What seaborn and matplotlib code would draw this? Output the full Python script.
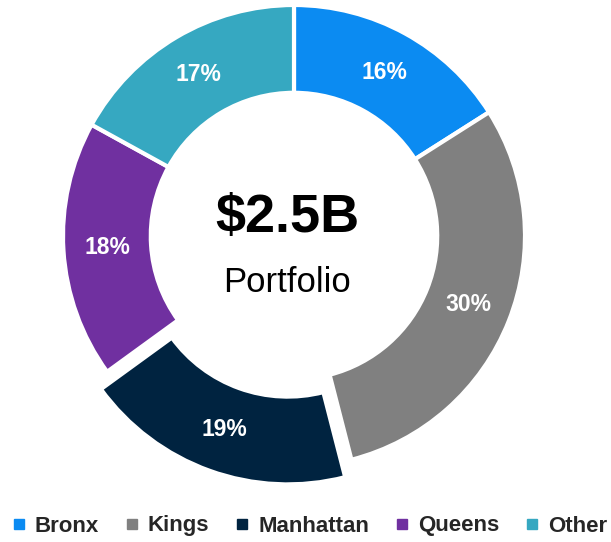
import matplotlib
matplotlib.use("Agg")
import matplotlib.pyplot as plt
from matplotlib.lines import Line2D
import seaborn as sns

boroughs = ["Bronx", "Kings", "Manhattan", "Queens", "Other"]
shares = [16, 30, 19, 18, 17]
colors = ["#0B8BF2", "#808080", "#002340", "#7030A0", "#36A8C1"]
explode = [0, 0, 0.08, 0, 0]
total_label = "$2.5B"
sub_label = "Portfolio"

sns.set_style("white")
plt.rcParams['font.family'] = ['Liberation Sans', 'DejaVu Sans']

fig = plt.figure(figsize=(6.11, 5.42), dpi=100)
ax = fig.add_axes([63 / 611, 75 / 542, 462 / 611, 462 / 542])

wedges, texts, autotexts = ax.pie(
    shares, colors=colors, explode=explode, startangle=90, counterclock=False,
    autopct=lambda p: f"{p:.0f}%", pctdistance=0.81,
    wedgeprops=dict(width=0.38, edgecolor="white", linewidth=3),
    textprops=dict(color="white", fontsize=16.5, fontweight="bold"))
for w in wedges:
    w.set_clip_on(False)
ax.set_xlim(-1, 1)
ax.set_ylim(-1, 1)
ax.set_aspect("equal")
ax.axis("off")

ax.text(-0.03, 0.08, total_label, ha="center", va="center", fontsize=39, fontweight="bold", color="black")
ax.text(-0.03, -0.2, sub_label, ha="center", va="center", fontsize=25, color="black")

handles = [Line2D([], [], marker="s", linestyle="", color=c, markersize=7) for c in colors]
fig.legend(handles, boroughs, loc="center", bbox_to_anchor=(0.505, 16 / 542),
           ncol=5, frameon=False, handletextpad=0.3, columnspacing=1.1, handlelength=0.8,
           prop=dict(family="Liberation Sans", size=16, weight="bold"))

fig.savefig("out.png", dpi=100)
